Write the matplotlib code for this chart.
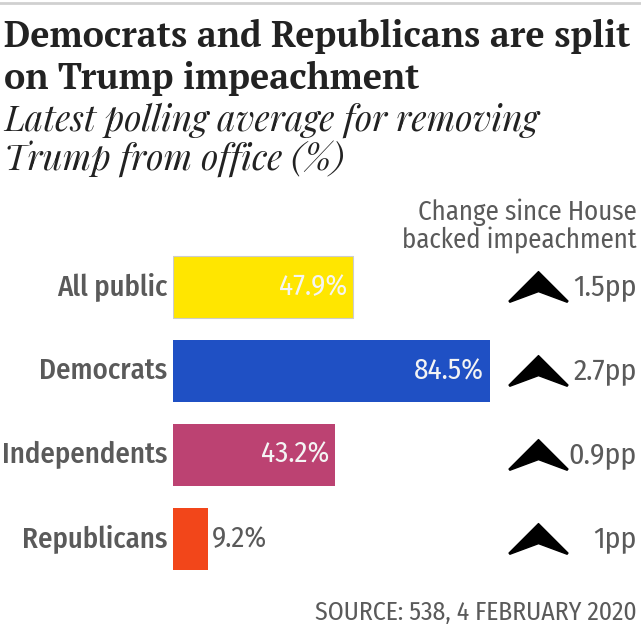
import numpy as np
import matplotlib
matplotlib.use('Agg')
import matplotlib.pyplot as plt
from matplotlib.path import Path
from matplotlib.transforms import blended_transform_factory
from matplotlib import font_manager

groups = ['All public', 'Democrats', 'Independents', 'Republicans']
support = [47.9, 84.5, 43.2, 9.2]
change = ['1.5pp', '2.7pp', '0.9pp', '1pp']
colors = ['#FFE600', '#1F50C4', '#BC4272', '#F2461A']

fonts = font_manager.fontManager.ttflist

def pick(cands, minweight=0, style='normal'):
    for c in cands:
        for f in fonts:
            w = f.weight if isinstance(f.weight, int) else 400
            if f.name == c and w >= minweight and f.style == style:
                return c
    return 'DejaVu Serif'

cond = pick(['Fira Sans Condensed', 'Fira Sans Extra Condensed', 'Roboto Condensed',
             'PT Sans Narrow', 'Archivo Narrow'])
serif_b = pick(['Playfair Display', 'Libre Caslon Text', 'Noto Serif Display', 'PT Serif',
                'Noto Serif', 'Liberation Serif'], minweight=700)
serif_i = pick(['Playfair Display', 'Libre Caslon Text', 'PT Serif', 'Liberation Serif'],
               style='italic')

W, H = 641, 624
fig = plt.figure(figsize=(W / 100, H / 100), dpi=100)

def fx(px):
    return px / W

def fy(py):
    return 1 - py / H

grey = '#5a5a5a'

# thin rule at top
fig.add_artist(plt.Line2D([0, 1], [fy(3), fy(3)], color='#d0d0d0', lw=2))

fig.text(fx(4), fy(47), 'Democrats and Republicans are split', family=serif_b,
         weight='bold', fontsize=25.8, color='#222222', va='baseline')
fig.text(fx(4), fy(89), 'on Trump impeachment', family=serif_b,
         weight='bold', fontsize=25.8, color='#222222', va='baseline')
fig.text(fx(4), fy(131), 'Latest polling average for removing', family=serif_i,
         style='italic', fontsize=25.5, color='#222222', va='baseline')
fig.text(fx(4), fy(171), 'Trump from office (%)', family=serif_i,
         style='italic', fontsize=25.5, color='#222222', va='baseline')

fig.text(fx(637), fy(220), 'Change since House', family=cond, fontsize=19.3,
         color=grey, ha='right', va='baseline')
fig.text(fx(637), fy(248), 'backed impeachment', family=cond, fontsize=19.3,
         color=grey, ha='right', va='baseline')

top, bottom = 245, 580.5
ax = fig.add_axes([fx(173), fy(bottom), fx(W - 173), (bottom - top) / H])
y = np.arange(len(groups))
ax.barh(y, support, height=0.74, color=colors, edgecolor=['#cccccc', 'none', 'none', 'none'], lw=0.8)
ax.set_xlim(0, (W - 173) / 3.75)
ax.set_ylim(len(groups) - 0.5, -0.5)
ax.axis('off')

for i, (g, v) in enumerate(zip(groups, support)):
    ax.text(-1.6, i, g, ha='right', va='center', family=cond, weight='medium',
            fontsize=20.7, color=grey)
    if v > 20:
        ax.text(v - 1.5, i, f'{v}%', ha='right', va='center', family=cond,
                fontsize=21, color='#f4f4f4')
    else:
        ax.text(v + 1.2, i, f'{v}%', ha='left', va='center', family=cond,
                fontsize=21, color=grey)

# chevron arrows
arrow = Path([(0, 0.54), (1, -0.46), (0.97, -0.5), (0, -0.14), (-0.97, -0.5), (-1, -0.46), (0, 0.54)],
             [Path.MOVETO, Path.LINETO, Path.LINETO, Path.LINETO, Path.LINETO, Path.LINETO,
              Path.CLOSEPOLY])
tr = blended_transform_factory(ax.transAxes, ax.transData)
ax.scatter([(538 - 173) / (W - 173)] * len(groups), y, marker=arrow, s=1800,
           color='black', transform=tr, clip_on=False)
for i, c in enumerate(change):
    ax.text(1 - 4 / (W - 173), i, c, transform=tr, ha='right', va='center',
            family=cond, fontsize=21.5, color=grey)

fig.text(fx(637), fy(620), 'SOURCE: 538, 4 FEBRUARY 2020', family=cond, fontsize=18.5,
         color=grey, ha='right', va='baseline')

fig.savefig('out.png', dpi=100)
